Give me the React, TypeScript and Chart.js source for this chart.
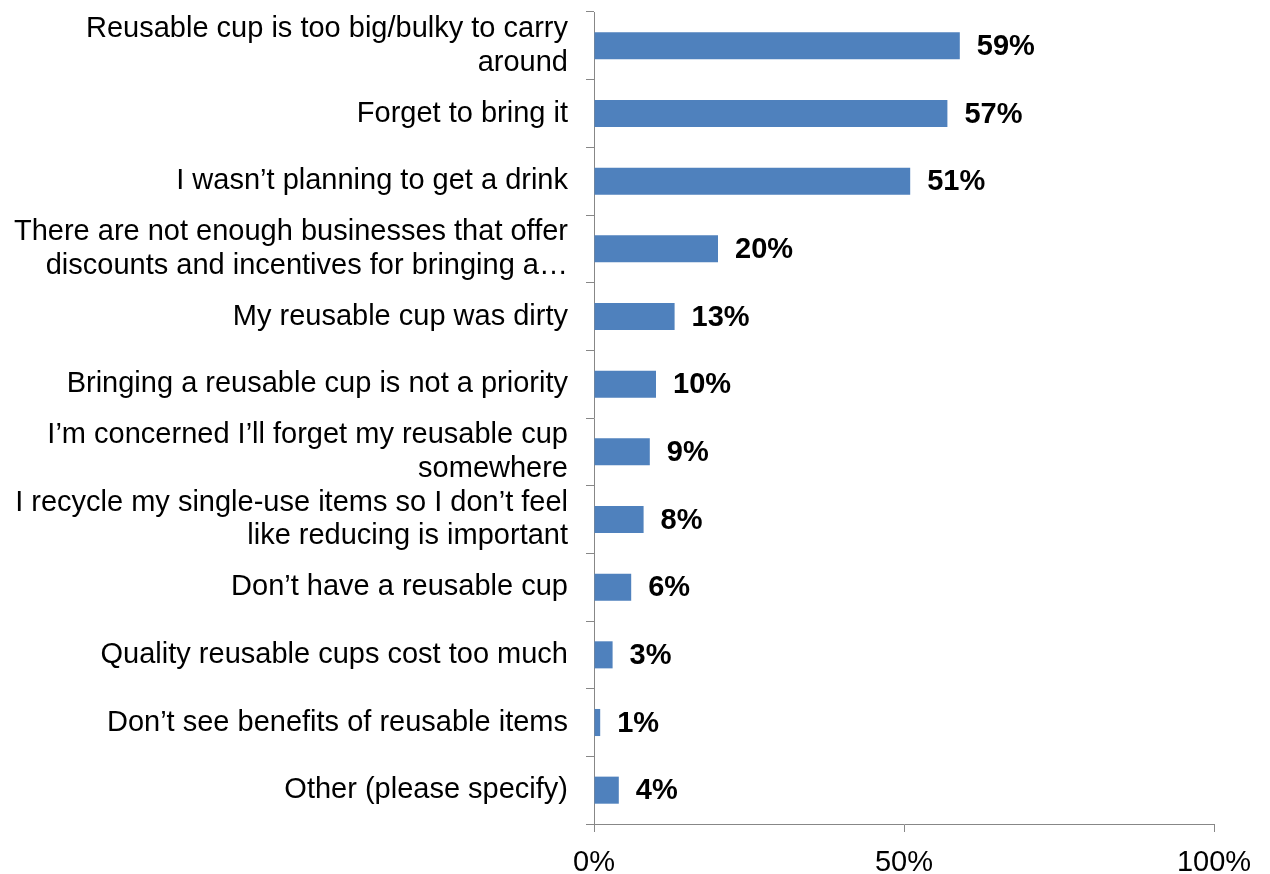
import React, { useEffect, useRef } from "react";
import { Chart, registerables } from "chart.js";

Chart.register(...registerables);

const categories: (string | string[])[] = [
  ["Reusable cup is too big/bulky to carry", "around"],
  "Forget to bring it",
  "I wasn’t planning to get a drink",
  ["There are not enough businesses that offer", "discounts and incentives for bringing a…"],
  "My reusable cup was dirty",
  "Bringing a reusable cup is not a priority",
  ["I’m concerned I’ll forget my reusable cup", "somewhere"],
  ["I recycle my single-use items so I don’t feel", "like reducing is important"],
  "Don’t have a reusable cup",
  "Quality reusable cups cost too much",
  "Don’t see benefits of reusable items",
  "Other (please specify)",
];

const values: number[] = [59, 57, 51, 20, 13, 10, 9, 8, 6, 3, 1, 4];

const xTicks: number[] = [0, 50, 100];

const FONT = "'Liberation Sans', Arial, Helvetica, sans-serif";
const AXIS_COLOR = "#878787";
const BAR_COLOR = "#4F81BD";

const valueLabels = {
  id: "valueLabels",
  afterDatasetsDraw(chart: any) {
    const ctx = chart.ctx;
    const meta = chart.getDatasetMeta(0);
    ctx.save();
    ctx.font = `bold 29px ${FONT}`;
    ctx.fillStyle = "#000";
    ctx.textAlign = "left";
    ctx.textBaseline = "middle";
    meta.data.forEach((bar: any, i: number) => {
      ctx.fillText(`${values[i]}%`, bar.x + 17, bar.y + 1);
    });
    ctx.restore();
  },
};

export default function App() {
  const ref = useRef<HTMLCanvasElement | null>(null);

  useEffect(() => {
    if (!ref.current) return;
    const chart = new Chart(ref.current, {
      type: "bar",
      data: {
        labels: categories,
        datasets: [
          {
            data: values,
            backgroundColor: BAR_COLOR,
            barPercentage: 0.4,
            categoryPercentage: 1.0,
          },
        ],
      },
      options: {
        indexAxis: "y",
        animation: false,
        responsive: false,
        maintainAspectRatio: false,
        layout: { padding: { top: 12, right: 56, bottom: 0, left: 0 } },
        plugins: {
          legend: { display: false },
          tooltip: { enabled: false },
        },
        scales: {
          y: {
            grid: {
              drawOnChartArea: false,
              offset: true,
              tickLength: 8,
              color: AXIS_COLOR,
            },
            border: { color: AXIS_COLOR, width: 1 },
            ticks: {
              color: "#000",
              padding: 18,
              autoSkip: false,
              font: { family: FONT, size: 29, lineHeight: 1.17 },
            },
            afterFit: (scale: any) => {
              scale.width = 594;
              scale.paddingTop = 0;
              scale.paddingBottom = 0;
            },
          },
          x: {
            min: 0,
            max: 100,
            afterBuildTicks: (scale: any) => {
              scale.ticks = xTicks.map((v) => ({ value: v }));
            },
            grid: {
              drawOnChartArea: false,
              tickLength: 8,
              color: AXIS_COLOR,
            },
            border: { color: AXIS_COLOR, width: 1 },
            ticks: {
              color: "#000",
              padding: 14,
              maxRotation: 0,
              font: { family: FONT, size: 29 },
              callback: (v: any) => `${v}%`,
            },
            afterFit: (scale: any) => {
              scale.height = 50;
            },
          },
        },
      },
      plugins: [valueLabels],
    });
    return () => chart.destroy();
  }, []);

  return (
    <div style={{ position: "fixed", left: 0, top: 0, width: 1270, height: 874, background: "#fff" }}>
      <canvas ref={ref} width={1270} height={874} />
    </div>
  );
}
